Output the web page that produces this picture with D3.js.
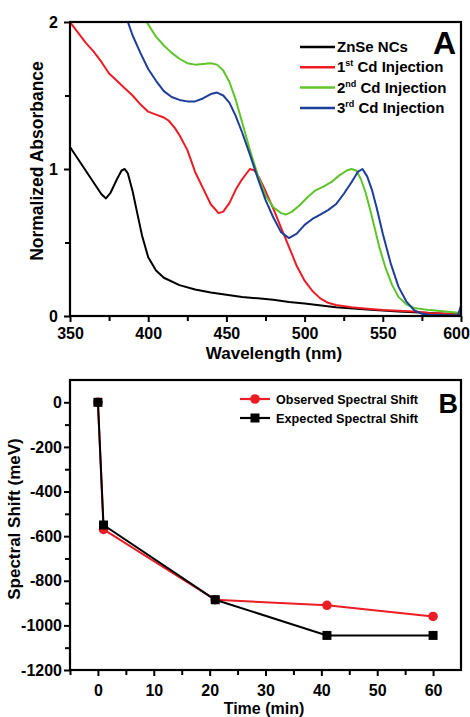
<!DOCTYPE html>
<html>
<head>
<meta charset="utf-8">
<script src="https://cdn.jsdelivr.net/npm/d3@7"></script>
<style>
  body { margin: 0; background: #fff; }
  svg { display: block; font-family: "Liberation Sans", Arial, sans-serif; }
</style>
</head>
<body>
<svg id="grafico" width="470" height="717"></svg>
<script>
// espectros de absorcion (longitud de onda nm, absorbancia normalizada)
var znse = [[350,1.15],[355,1.07],[360,0.99],[365,0.91],[370,0.83],[373,0.80],[376,0.84],[380,0.93],[383,0.99],[385,1.00],[387,0.97],[390,0.85],[393,0.70],[396,0.55],[400,0.40],[405,0.31],[410,0.26],[420,0.21],[430,0.18],[440,0.16],[450,0.145],[460,0.13],[470,0.12],[480,0.11],[490,0.095],[500,0.085],[520,0.06],[540,0.045],[560,0.03],[580,0.02],[600,0.01]];
var cd1 = [[350,2.00],[355,1.93],[360,1.86],[365,1.80],[370,1.73],[375,1.65],[380,1.60],[385,1.55],[390,1.50],[395,1.44],[400,1.39],[405,1.37],[410,1.35],[413,1.33],[417,1.28],[420,1.23],[425,1.13],[430,0.98],[435,0.87],[440,0.76],[445,0.70],[448,0.71],[452,0.77],[456,0.86],[460,0.93],[465,1.00],[468,0.99],[471,0.94],[475,0.85],[480,0.73],[485,0.60],[490,0.47],[495,0.34],[500,0.24],[505,0.17],[510,0.12],[515,0.09],[520,0.075],[530,0.06],[540,0.05],[550,0.04],[560,0.035],[570,0.03],[580,0.02],[590,0.015],[600,0.01]];
var cd2 = [[399,2.00],[402,1.95],[405,1.90],[410,1.84],[415,1.79],[420,1.75],[425,1.72],[430,1.71],[435,1.715],[440,1.72],[444,1.71],[448,1.67],[452,1.59],[456,1.47],[460,1.32],[465,1.13],[470,0.96],[475,0.82],[480,0.74],[485,0.70],[488,0.69],[492,0.71],[497,0.755],[502,0.81],[507,0.855],[512,0.88],[517,0.91],[522,0.955],[527,0.99],[530,1.00],[533,0.99],[536,0.93],[539,0.84],[542,0.72],[545,0.59],[548,0.46],[552,0.32],[556,0.21],[560,0.13],[565,0.08],[570,0.055],[580,0.04],[590,0.03],[600,0.02]];
var cd3 = [[387,2.00],[390,1.91],[395,1.79],[400,1.68],[405,1.60],[410,1.53],[415,1.49],[420,1.47],[425,1.46],[430,1.46],[435,1.48],[440,1.51],[444,1.52],[448,1.50],[452,1.45],[456,1.36],[460,1.25],[465,1.10],[470,0.94],[475,0.79],[480,0.67],[485,0.57],[490,0.53],[495,0.56],[500,0.62],[505,0.66],[510,0.69],[515,0.72],[520,0.76],[525,0.83],[530,0.91],[534,0.98],[537,1.00],[540,0.95],[543,0.86],[546,0.74],[550,0.56],[555,0.36],[560,0.20],[565,0.10],[570,0.04],[575,0.015],[580,0.008],[590,0.005],[598,0.005],[600,0.07]];

// corrimiento espectral (tiempo min, meV)
var tiempos = [0, 1, 21, 41, 60];
var observado = [0, -570, -885, -910, -960];
var esperado = [0, -550, -885, -1045, -1045];

// etiquetas
var seriesA = ["ZnSe NCs", "1st Cd Injection", "2nd Cd Injection", "3rd Cd Injection"];
var seriesB = ["Observed Spectral Shift", "Expected Spectral Shift"];
var ticksXA = [350, 400, 450, 500, 550, 600];
var ticksYA = [0, 1, 2];
var ticksXB = [0, 10, 20, 30, 40, 50, 60];
var ticksYB = [0, -200, -400, -600, -800, -1000, -1200];

var colores = ["#000000", "#ec1c24", "#5ec42a", "#1d3f99"];
var datosA = [znse, cd1, cd2, cd3];

var svg = d3.select("#grafico");

// ---------------- Panel A ----------------
var A = { left: 70, right: 461, top: 22, bottom: 316 };
var xA = d3.scaleLinear().domain([350, 600]).range([A.left, A.right]);
var yA = d3.scaleLinear().domain([0, 2]).range([A.bottom, A.top]);

svg.append("defs").append("clipPath").attr("id", "clipA")
  .append("rect").attr("x", A.left).attr("y", A.top)
  .attr("width", A.right - A.left).attr("height", A.bottom - A.top);

var lineaA = d3.line().x(function (d) { return xA(d[0]); }).y(function (d) { return yA(d[1]); });

var gA = svg.append("g").attr("clip-path", "url(#clipA)");
datosA.forEach(function (serie, i) {
  gA.append("path")
    .attr("d", lineaA(serie))
    .attr("fill", "none")
    .attr("stroke", colores[i])
    .attr("stroke-width", 2)
    .attr("stroke-linejoin", "round");
});

// ejes (ticks mayores y menores hacia afuera) y marco
function ejes(g, x, y, caja, tx, ty, menoresX, menoresY, padX, padY) {
  var fmt = function (d) { return String(d); }; // guion normal, sin separador de miles
  g.append("g").attr("transform", "translate(0," + caja.bottom + ")")
    .call(d3.axisBottom(x).tickValues(menoresX).tickSize(5).tickSizeOuter(0).tickFormat(""));
  g.append("g").attr("transform", "translate(" + caja.left + ",0)")
    .call(d3.axisLeft(y).tickValues(menoresY).tickSize(5).tickSizeOuter(0).tickFormat(""));
  g.append("g").attr("class", "ax ejex").attr("transform", "translate(0," + caja.bottom + ")")
    .call(d3.axisBottom(x).tickValues(tx).tickSize(6).tickSizeOuter(0).tickPadding(padX).tickFormat(fmt));
  g.append("g").attr("class", "ax").attr("transform", "translate(" + caja.left + ",0)")
    .call(d3.axisLeft(y).tickValues(ty).tickSize(6).tickSizeOuter(0).tickPadding(padY).tickFormat(fmt));
  g.selectAll(".domain").remove();
  g.selectAll(".tick line").attr("stroke", "#000").attr("stroke-width", 2);
  g.selectAll(".ax text").attr("fill", "#000").style("font-size", "16px").style("font-weight", "bold")
    .style("font-family", "'Liberation Sans', Arial, sans-serif");
  g.append("rect").attr("x", caja.left).attr("y", caja.top)
    .attr("width", caja.right - caja.left).attr("height", caja.bottom - caja.top)
    .attr("fill", "none").attr("stroke", "#000").attr("stroke-width", 2.2);
  return g;
}

var ejesA = ejes(svg.append("g"), xA, yA, A, ticksXA, ticksYA,
  [375, 425, 475, 525, 575], [0.5, 1.5], 6, 6);
// la ultima etiqueta (600) se corre un poco para que quepa
ejesA.selectAll(".ejex .tick text").filter(function (d) { return d == 600; }).attr("dx", -5);

svg.append("text")
  .attr("x", 274).attr("y", 359)
  .attr("text-anchor", "middle").style("font-size", "17px").style("font-weight", "bold")
  .text("Wavelength (nm)");

svg.append("text")
  .attr("transform", "translate(43,161) rotate(-90)")
  .attr("text-anchor", "middle").style("font-size", "17.5px").style("font-weight", "bold")
  .text("Normalized Absorbance");

// leyenda A
var legA = svg.append("g").attr("transform", "translate(300,47)");
seriesA.forEach(function (nombre, i) {
  var fila = legA.append("g").attr("transform", "translate(0," + (i * 20.3) + ")");
  fila.append("line").attr("x1", 0).attr("x2", 35).attr("y1", 0).attr("y2", 0)
    .attr("stroke", colores[i]).attr("stroke-width", 2.5);
  var t = fila.append("text").attr("x", 37).attr("y", 5)
    .style("font-size", "15px").style("font-weight", "bold");
  var m = nombre.match(/^(\d)(st|nd|rd)(.*)$/);
  if (m) {
    t.append("tspan").text(m[1]);
    t.append("tspan").attr("dy", -6).style("font-size", "9px").text(m[2]);
    t.append("tspan").attr("dy", 6).text(m[3]);
  } else {
    t.text(nombre);
  }
});

svg.append("text").attr("x", 456).attr("y", 54).attr("text-anchor", "end")
  .style("font-size", "32px").style("font-weight", "bold").text("A");

// ---------------- Panel B ----------------
var B = { left: 70, right: 461, top: 380, bottom: 670 };
var xB = d3.scaleLinear().domain([-5, 65]).range([B.left, B.right]);
var yB = d3.scaleLinear().domain([-1200, 100]).range([B.bottom, B.top]);

ejes(svg.append("g"), xB, yB, B, ticksXB, ticksYB,
  [-5, 5, 15, 25, 35, 45, 55], [-100, -300, -500, -700, -900, -1100], 9, 2);

var lineaB = d3.line().x(function (d) { return xB(d[0]); }).y(function (d) { return yB(d[1]); });
var obs = tiempos.map(function (t, i) { return [t, observado[i]]; });
var esp = tiempos.map(function (t, i) { return [t, esperado[i]]; });

svg.append("path").attr("d", lineaB(obs)).attr("fill", "none")
  .attr("stroke", "#ec1c24").attr("stroke-width", 2);
svg.selectAll(".punto-obs").data(obs).enter().append("circle")
  .attr("cx", function (d) { return xB(d[0]); })
  .attr("cy", function (d) { return yB(d[1]); })
  .attr("r", 4.8).attr("fill", "#ec1c24");

svg.append("path").attr("d", lineaB(esp)).attr("fill", "none")
  .attr("stroke", "#000").attr("stroke-width", 2);
svg.selectAll(".punto-esp").data(esp).enter().append("rect")
  .attr("x", function (d) { return xB(d[0]) - 4.5; })
  .attr("y", function (d) { return yB(d[1]) - 4.5; })
  .attr("width", 9).attr("height", 9).attr("fill", "#000");

svg.append("text")
  .attr("x", 264).attr("y", 714)
  .attr("text-anchor", "middle").style("font-size", "16px").style("font-weight", "bold")
  .text("Time (min)");

svg.append("text")
  .attr("transform", "translate(20,519) rotate(-90)")
  .attr("text-anchor", "middle").style("font-size", "17px").style("font-weight", "bold")
  .text("Spectral Shift (meV)");

// leyenda B
var legB = svg.append("g").attr("transform", "translate(240,399)");
seriesB.forEach(function (nombre, i) {
  var fila = legB.append("g").attr("transform", "translate(0," + (i * 19) + ")");
  fila.append("line").attr("x1", 0).attr("x2", 30).attr("y1", 0).attr("y2", 0)
    .attr("stroke", i == 0 ? "#ec1c24" : "#000").attr("stroke-width", 2.2);
  if (i == 0) {
    fila.append("circle").attr("cx", 15).attr("cy", 0).attr("r", 4.8).attr("fill", "#ec1c24");
  } else {
    fila.append("rect").attr("x", 10.5).attr("y", -4.5).attr("width", 9).attr("height", 9).attr("fill", "#000");
  }
  fila.append("text").attr("x", 36).attr("y", 5)
    .attr("textLength", 142).attr("lengthAdjust", "spacingAndGlyphs")
    .style("font-size", "13px").style("font-weight", "bold").text(nombre);
});

svg.append("text").attr("x", 458).attr("y", 413).attr("text-anchor", "end")
  .style("font-size", "27px").style("font-weight", "bold").text("B");
</script>
</body>
</html>
